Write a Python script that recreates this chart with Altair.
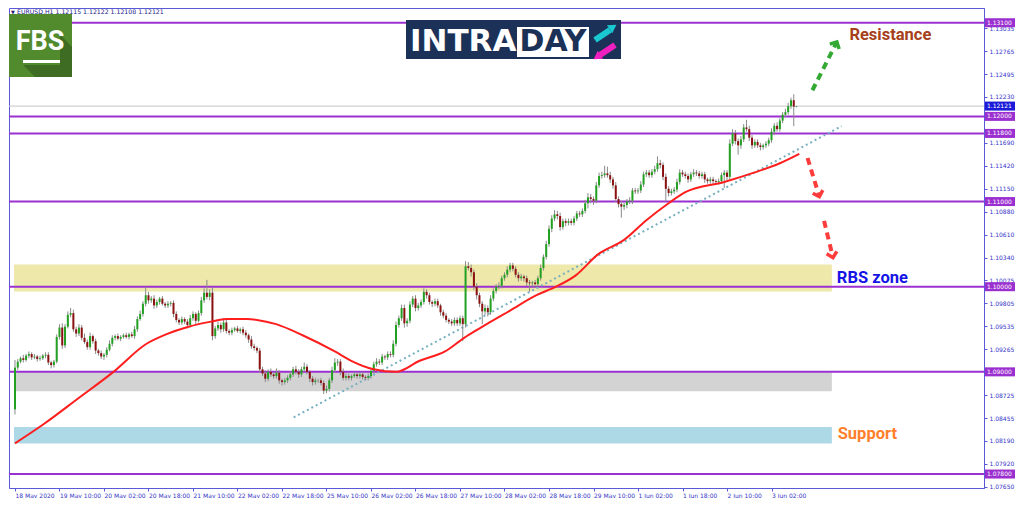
import math
import altair as alt
import pandas as pd

# ---------------- data ----------------
first_open = 1.0856
closes = [
    1.0905, 1.0912, 1.0916, 1.0914, 1.0919, 1.0921, 1.0917, 1.0918, 1.0915, 1.0916,
    1.0919, 1.0920, 1.0911, 1.0908, 1.0912, 1.0941, 1.0952, 1.0931, 1.0953, 1.0967,
    1.0969, 1.0950, 1.0945, 1.0952, 1.0940, 1.0935, 1.0929, 1.0942, 1.0936, 1.0925,
    1.0922, 1.0918, 1.0920, 1.0926, 1.0933, 1.0940, 1.0942, 1.0939, 1.0941, 1.0943,
    1.0941, 1.0944, 1.0942, 1.0950, 1.0962, 1.0968, 1.0980, 1.0990, 1.0984, 1.0986,
    1.0978, 1.0982, 1.0986, 1.0980, 1.0978, 1.0980, 1.0981, 1.0968, 1.0961, 1.0958,
    1.0962, 1.0959, 1.0955, 1.0963, 1.0968, 1.0960, 1.0969, 1.0984, 1.0993, 1.0988,
    1.0993, 1.0942, 1.0951, 1.0955, 1.0950, 1.0958, 1.0948, 1.0946, 1.0949, 1.0951,
    1.0948, 1.0950, 1.0946, 1.0943, 1.0938, 1.0930, 1.0928, 1.0925, 1.0903, 1.0898,
    1.0892, 1.0900, 1.0897, 1.0895, 1.0899, 1.0890, 1.0888, 1.0890, 1.0893, 1.0897,
    1.0903, 1.0900, 1.0897, 1.0903, 1.0906, 1.0900, 1.0892, 1.0888, 1.0890, 1.0890,
    1.0887, 1.0878, 1.0880, 1.0890, 1.0902, 1.0911, 1.0912, 1.0900, 1.0893, 1.0895,
    1.0893, 1.0895, 1.0897, 1.0895, 1.0897, 1.0894, 1.0893, 1.0895, 1.0901, 1.0909,
    1.0912, 1.0911, 1.0918, 1.0917, 1.0921, 1.0920, 1.0933, 1.0955, 1.0963, 1.0975,
    1.0957, 1.0960, 1.0979, 1.0986, 1.0975, 1.0978, 1.0982, 1.0994, 1.0990, 1.0982,
    1.0980, 1.0983, 1.0978, 1.0970, 1.0966, 1.0961, 1.0959, 1.0957, 1.0961, 1.0957,
    1.0963, 1.0956, 1.1024, 1.1022, 1.1017, 1.1000, 1.0990, 1.0980, 1.0971, 1.0975,
    1.0970, 1.0986, 1.0995, 1.1000, 1.1001, 1.1010, 1.1014, 1.1020, 1.1025, 1.1021,
    1.1014, 1.1010, 1.1012, 1.1010, 1.1005, 1.1004, 1.1005, 1.1003, 1.1010, 1.1022,
    1.1035, 1.1050, 1.1068, 1.1080, 1.1085, 1.1083, 1.1070, 1.1077, 1.1075, 1.1077,
    1.1075, 1.1080, 1.1086, 1.1085, 1.1089, 1.1098, 1.1105, 1.1103, 1.1101, 1.1119,
    1.1130, 1.1131, 1.1133, 1.1131, 1.1126, 1.1119, 1.1103, 1.1097, 1.1094, 1.1096,
    1.1100, 1.1101, 1.1113, 1.1112, 1.1113, 1.1120, 1.1132, 1.1134, 1.1131, 1.1135,
    1.1138, 1.1145, 1.1143, 1.1129, 1.1115, 1.1110, 1.1112, 1.1114, 1.1123, 1.1134,
    1.1132, 1.1130, 1.1126, 1.1132, 1.1134, 1.1133, 1.1130, 1.1132, 1.1126, 1.1124,
    1.1126, 1.1124, 1.1123, 1.1124, 1.1131, 1.1134, 1.1129, 1.1168, 1.1180, 1.1171,
    1.1166, 1.1173, 1.1187, 1.1185, 1.1175, 1.1166, 1.1170, 1.1166, 1.1164, 1.1166,
    1.1168, 1.1172, 1.1182, 1.1189, 1.1185, 1.1195, 1.1202, 1.1205, 1.1212, 1.1219,
    1.12115, 1.12121,
]
upper_wick_pips = [
    9, 3, 2, 4, 2, 3, 2, 3, 2, 3, 2, 3, 3, 2, 2, 3, 4, 5, 3, 4,
    6, 4, 3, 4, 3, 5, 3, 4, 2, 3, 2, 3, 2, 3, 4, 3, 2, 3, 2, 2,
    3, 2, 3, 4, 3, 4, 3, 10, 4, 3, 4, 3, 2, 3, 2, 3, 2, 3, 3, 2,
    3, 2, 3, 4, 3, 2, 3, 4, 5, 15, 4, 6, 3, 4, 3, 5, 3, 2, 3, 2,
    3, 2, 3, 3, 2, 4, 3, 2, 3, 3, 4, 3, 4, 3, 5, 3, 2, 3, 3, 4,
    3, 4, 3, 3, 5, 3, 2, 3, 3, 2, 3, 3, 4, 3, 4, 5, 3, 3, 4, 3,
    3, 2, 3, 2, 3, 3, 2, 3, 3, 3, 4, 3, 3, 2, 3, 3, 4, 4, 3, 4,
    4, 3, 4, 3, 4, 3, 3, 4, 3, 3, 2, 3, 3, 2, 3, 3, 2, 3, 3, 3,
    3, 3, 6, 5, 4, 3, 4, 3, 3, 4, 3, 4, 3, 3, 4, 3, 3, 4, 3, 3,
    3, 3, 3, 2, 3, 3, 2, 3, 3, 4, 3, 4, 4, 4, 5, 4, 4, 3, 3, 3,
    3, 3, 3, 3, 3, 4, 5, 4, 3, 4, 4, 4, 9, 8, 4, 3, 4, 3, 4, 3,
    3, 4, 3, 3, 3, 4, 3, 3, 3, 3, 4, 8, 4, 3, 4, 3, 3, 3, 4, 4,
    3, 3, 3, 3, 4, 3, 3, 3, 3, 2, 3, 3, 2, 3, 3, 3, 3, 5, 5, 4,
    3, 4, 4, 9, 4, 3, 3, 3, 3, 2, 3, 3, 4, 3, 4, 3, 3, 4, 4, 3,
    7, 0.1,
]
lower_wick_pips = [
    6, 3, 2, 3, 2, 3, 3, 2, 3, 2, 2, 3, 3, 4, 3, 2, 3, 4, 3, 2,
    3, 3, 4, 3, 3, 2, 3, 3, 3, 4, 3, 3, 4, 3, 2, 3, 3, 2, 3, 2,
    2, 3, 2, 3, 3, 2, 3, 3, 4, 3, 4, 3, 3, 2, 3, 3, 3, 4, 3, 3,
    3, 3, 4, 3, 3, 4, 2, 3, 3, 3, 4, 5, 3, 3, 4, 3, 3, 3, 3, 2,
    2, 3, 3, 3, 4, 3, 3, 3, 4, 3, 4, 3, 3, 3, 3, 4, 4, 3, 3, 3,
    3, 3, 4, 3, 3, 3, 4, 4, 3, 3, 3, 4, 3, 3, 3, 3, 4, 4, 3, 3,
    3, 3, 2, 3, 3, 3, 3, 3, 3, 3, 3, 3, 3, 3, 3, 3, 3, 3, 3, 3,
    5, 4, 3, 3, 4, 3, 3, 3, 4, 3, 4, 3, 3, 4, 3, 3, 3, 3, 3, 3,
    3, 20, 4, 3, 5, 4, 5, 4, 15, 4, 5, 3, 3, 3, 3, 3, 3, 3, 3, 3,
    3, 4, 3, 4, 4, 10, 4, 4, 3, 3, 3, 3, 3, 4, 3, 4, 4, 3, 4, 3,
    3, 3, 3, 3, 3, 3, 6, 5, 5, 3, 3, 3, 3, 3, 4, 4, 4, 4, 13, 4,
    4, 3, 4, 3, 3, 3, 3, 3, 3, 3, 3, 3, 4, 4, 15, 4, 3, 3, 3, 3,
    3, 3, 4, 3, 3, 3, 3, 3, 4, 3, 3, 4, 3, 3, 3, 15, 4, 3, 3, 4,
    11, 4, 3, 3, 4, 4, 3, 3, 4, 3, 3, 3, 3, 4, 3, 3, 3, 3, 3, 3,
    23, 0.7,
]
assert len(closes) == len(upper_wick_pips) == len(lower_wick_pips) == 282

x_tick_bars = [0, 16, 32, 48, 64, 80, 96, 112, 128, 144, 160, 176, 192, 208, 224, 240, 256, 272]
x_tick_labels = ["18 May 2020", "19 May 10:00", "20 May 02:00", "20 May 18:00", "21 May 10:00",
                 "22 May 02:00", "22 May 18:00", "25 May 10:00", "26 May 02:00", "26 May 18:00",
                 "27 May 10:00", "28 May 02:00", "28 May 18:00", "29 May 10:00", "1 Jun 02:00",
                 "1 Jun 18:00", "2 Jun 10:00", "3 Jun 02:00"]
y_ticks = [1.13035, 1.12765, 1.12495, 1.12230, 1.11690, 1.11420, 1.11150, 1.10880,
           1.10610, 1.10340, 1.10075, 1.09805, 1.09535, 1.09265, 1.08725, 1.08455,
           1.08190, 1.07920, 1.07650]

levels = [1.131, 1.12, 1.118, 1.11, 1.10, 1.09, 1.078]
current_price = 1.12121

zone_lo = [1.09943, 1.08773, 1.08159]
zone_hi = [1.10261, 1.09000, 1.08352]
zone_end = [293.7, 293.7, 293.7]
zone_colors = ["#eee8aa", "#d3d3d3", "#add8e6"]

ma_bars = [0, 10.5, 22.8, 35.4, 47.3, 54.3, 62.4, 70.5, 76, 83.4, 87, 93.9, 103.4, 115, 120.9,
           129, 137, 145.5, 154.6, 161.5, 167.5, 178, 187.5, 194.5, 201.5, 209.6, 219, 227,
           235, 241, 255, 265.7, 275, 282]
ma_prices = [1.0816, 1.0839, 1.0869, 1.0900, 1.0933, 1.0944, 1.0953, 1.0959, 1.0962, 1.0962,
             1.0961, 1.0956, 1.0943, 1.0924, 1.0913, 1.0903, 1.0900, 1.0913, 1.0924, 1.0940,
             1.0952, 1.0972, 1.0990, 1.1000, 1.1013, 1.1038, 1.1055, 1.1078, 1.1098, 1.1111,
             1.1123, 1.1134, 1.1145, 1.1156]

trend_bars = [100.2, 297.2]
trend_prices = [1.08466, 1.11886]

arrow_b0 = [286.7, 284.96, 290.9]
arrow_p0 = [1.12307, 1.11511, 1.10773]
arrow_b1 = [295.5, 289.2, 294.1]
arrow_p1 = [1.12875, 1.11057, 1.10341]
arrow_colors = ["#33a833", "#ff3c3c", "#ff3c3c"]

notes = ["Resistance", "RBS zone", "Support"]
note_bars = [300.0, 295.5, 295.8]
note_prices = [1.12955, 1.10102, 1.08273]
note_colors = ["#a5401a", "#1414e6", "#ff7f2a"]

# ---------------- layout ----------------
W, H = 975, 480
XMIN, XMAX = -0.35, 346.6
YMIN, YMAX = 1.07636, 1.13273
xs = alt.Scale(domain=[XMIN, XMAX], nice=False, zero=False)
ys = alt.Scale(domain=[YMIN, YMAX], nice=False, zero=False)
pxb = W / (XMAX - XMIN)
pxp = H / (YMAX - YMIN)

label_js = "[" + ",".join("'%s'" % s for s in x_tick_labels) + "][round(datum.value/16)]"
x_axis = alt.Axis(values=x_tick_bars, labelExpr=label_js, orient="bottom", title=None, grid=False,
                  tickSize=3, labelAlign="left", labelPadding=1, labelFlush=False,
                  labelOverlap=False, labelBound=False)
y_axis = alt.Axis(values=y_ticks, format=".5f", orient="right", title=None, grid=False, tickSize=3,
                  labelPadding=2, labelFlush=False, labelOverlap=False, labelBound=False)

opens = [first_open] + closes[:-1]
rows = []
for i, (o, c, u, d) in enumerate(zip(opens, closes, upper_wick_pips, lower_wick_pips)):
    rows.append({"b": i, "o": o, "c": c,
                 "h": max(o, c) + u * 0.0001, "l": min(o, c) - d * 0.0001,
                 "col": "#22a022" if c >= o else "#8b1010"})
candles = pd.DataFrame(rows)

X = lambda f: alt.X(f, type="quantitative", scale=xs, axis=x_axis)
Y = lambda f: alt.Y(f, type="quantitative", scale=ys, axis=y_axis)

zones = pd.DataFrame({"b0": [XMIN] * 3, "b1": zone_end, "lo": zone_lo, "hi": zone_hi, "col": zone_colors})
zone_layer = alt.Chart(zones).mark_rect().encode(
    x=X("b0"), x2="b1", y=Y("lo"), y2="hi", color=alt.Color("col:N", scale=None))

cur_layer = alt.Chart(pd.DataFrame({"p": [current_price]})).mark_rule(
    color="#c4c4c4", strokeWidth=1).encode(y=Y("p"))
level_layer = alt.Chart(pd.DataFrame({"p": levels})).mark_rule(
    color="#9b30d0", strokeWidth=2).encode(y=Y("p"))

trend_layer = alt.Chart(pd.DataFrame({"b0": [trend_bars[0]], "b1": [trend_bars[1]],
                                      "p0": [trend_prices[0]], "p1": [trend_prices[1]]})).mark_rule(
    color="#78b0c0", strokeWidth=2, strokeDash=[2, 3]).encode(x=X("b0"), x2="b1", y=Y("p0"), y2="p1")

wick_layer = alt.Chart(candles).mark_rule(color="#8a8a8a", strokeWidth=1).encode(
    x=X("b"), y=Y("l"), y2="h")

body_layer = alt.Chart(candles).mark_bar(size=2).encode(
    x=X("b"), y=Y("o"), y2="c", color=alt.Color("col:N", scale=None))

ma_layer = alt.Chart(pd.DataFrame({"b": ma_bars, "p": ma_prices})).mark_line(
    color="#ff1e1e", strokeWidth=2, interpolate="monotone").encode(x=X("b"), y=Y("p"))

arrows = pd.DataFrame({"b0": arrow_b0, "p0": arrow_p0, "b1": arrow_b1, "p1": arrow_p1, "col": arrow_colors})
arrows["ang"] = [
    math.degrees(math.atan2((b1 - b0) * pxb, (p1 - p0) * pxp)) % 360
    for b0, p0, b1, p1 in zip(arrow_b0, arrow_p0, arrow_b1, arrow_p1)
]
shaft_layer = alt.Chart(arrows).mark_rule(strokeWidth=4, strokeDash=[7, 5]).encode(
    x=X("b0"), x2="b1", y=Y("p0"), y2="p1", color=alt.Color("col:N", scale=None))
head_layer = alt.Chart(arrows).mark_point(
    shape="M-1,1L0,0L1,1", filled=False, strokeWidth=3.5, size=110, opacity=1).encode(
    x=X("b1"), y=Y("p1"), color=alt.Color("col:N", scale=None),
    angle=alt.Angle("ang:Q", scale=None))

note_layer = alt.Chart(pd.DataFrame({"t": notes, "b": note_bars, "p": note_prices, "col": note_colors})).mark_text(
    align="left", baseline="middle", font="Roboto", fontWeight="bold", fontSize=16.5).encode(
    x=X("b"), y=Y("p"), text="t:N", color=alt.Color("col:N", scale=None))

# price boxes on the right axis
box_prices = levels + [current_price]
box_df = pd.DataFrame({"p": box_prices,
                       "t": ["%.5f" % p for p in box_prices],
                       "col": ["#9b30d0"] * len(levels) + ["#1a1ad8"]})
box_layer = alt.Chart(box_df).mark_rect(yOffset=-4.5, y2Offset=4.5).encode(
    x=alt.value(W + 1), x2=alt.value(W + 31), y=Y("p"), y2="p", color=alt.Color("col:N", scale=None))
box_text = alt.Chart(box_df).mark_text(
    align="left", baseline="middle", font="DejaVu Sans", fontSize=6, color="white").encode(
    x=alt.value(W + 3), y=Y("p"), text="t:N")

one = pd.DataFrame({"k": [0]})

def deco_rect(x0, y0, x1, y1, color):
    return alt.Chart(one).mark_rect(color=color).encode(
        x=alt.value(x0), x2=alt.value(x1), y=alt.value(y0), y2=alt.value(y1))

def deco_text(x, y, text, size, color, font="DejaVu Sans", weight="normal", align="left"):
    return alt.Chart(one).mark_text(text=text, fontSize=size, color=color, font=font,
                                    fontWeight=weight, align=align, baseline="middle").encode(
        x=alt.value(x), y=alt.value(y))

def deco_line(x0, y0, x1, y1, color, w):
    return alt.Chart(one).mark_rule(color=color, strokeWidth=w, strokeCap="butt").encode(
        x=alt.value(x0), x2=alt.value(x1), y=alt.value(y0), y2=alt.value(y1))

def deco_tri(x, y, ang, color, size):
    return alt.Chart(one).mark_point(shape="triangle-up", filled=True, color=color, size=size,
                                     angle=ang, opacity=1).encode(x=alt.value(x), y=alt.value(y))

def deco_shape(x, y, path, color, size):
    return alt.Chart(one).mark_point(shape=path, filled=True, color=color, size=size,
                                     opacity=1, strokeWidth=0).encode(x=alt.value(x), y=alt.value(y))

header = [
    deco_text(2, 4, "▼", 5, "#1a1a70"),
    deco_text(8, 4, "EURUSD,H1  1.12115 1.12122 1.12108 1.12121", 6.2, "#1a1a8a"),
]
fbs_shadow = "M-0.55,0.62L0.62,0.62L0.62,-0.35L1,0.05L1,1L-0.17,1Z"
fbs = [
    deco_rect(0, 6, 63, 69, "#528a2e"),
    deco_shape(31.5, 37.5, fbs_shadow, "#3e6c22", 63 * 63),
    deco_text(31, 34, "FBS", 27, "white", font="Liberation Sans Narrow, Roboto", weight="bold", align="center"),
    deco_rect(14, 52, 51, 55, "white"),
]
intraday = [
    deco_rect(397, 12, 612, 51, "#1c3157"),
    deco_rect(508, 19, 580, 49, "white"),
    deco_text(401, 34, "INTRA", 31, "white", font="DejaVu Sans", weight="bold"),
    deco_text(544, 34, "DAY", 30, "#1c3157", font="DejaVu Sans", weight="bold", align="center"),
    deco_line(586, 32, 601, 22, "#19c8d0", 6),
    deco_tri(604, 19, 56, "#19c8d0", 90),
    deco_line(606, 37, 591, 47, "#f020c0", 6),
    deco_tri(588, 49, 236, "#f020c0", 90),
]

chart = alt.layer(
    zone_layer, cur_layer, level_layer, trend_layer, wick_layer, body_layer, ma_layer,
    shaft_layer, head_layer, note_layer, box_layer, box_text, *header, *fbs, *intraday,
).properties(
    width=W, height=H, padding={"left": 0, "top": 0, "right": 0, "bottom": 0}
).configure_view(
    stroke="#5a5ad8", strokeWidth=1
).configure_axis(
    labelFont="DejaVu Sans", labelFontSize=6, labelColor="#3535c8",
    domainColor="#5a5ad8", tickColor="#5a5ad8"
)

chart.save("out.html", embed_options={"renderer": "svg", "actions": False})
